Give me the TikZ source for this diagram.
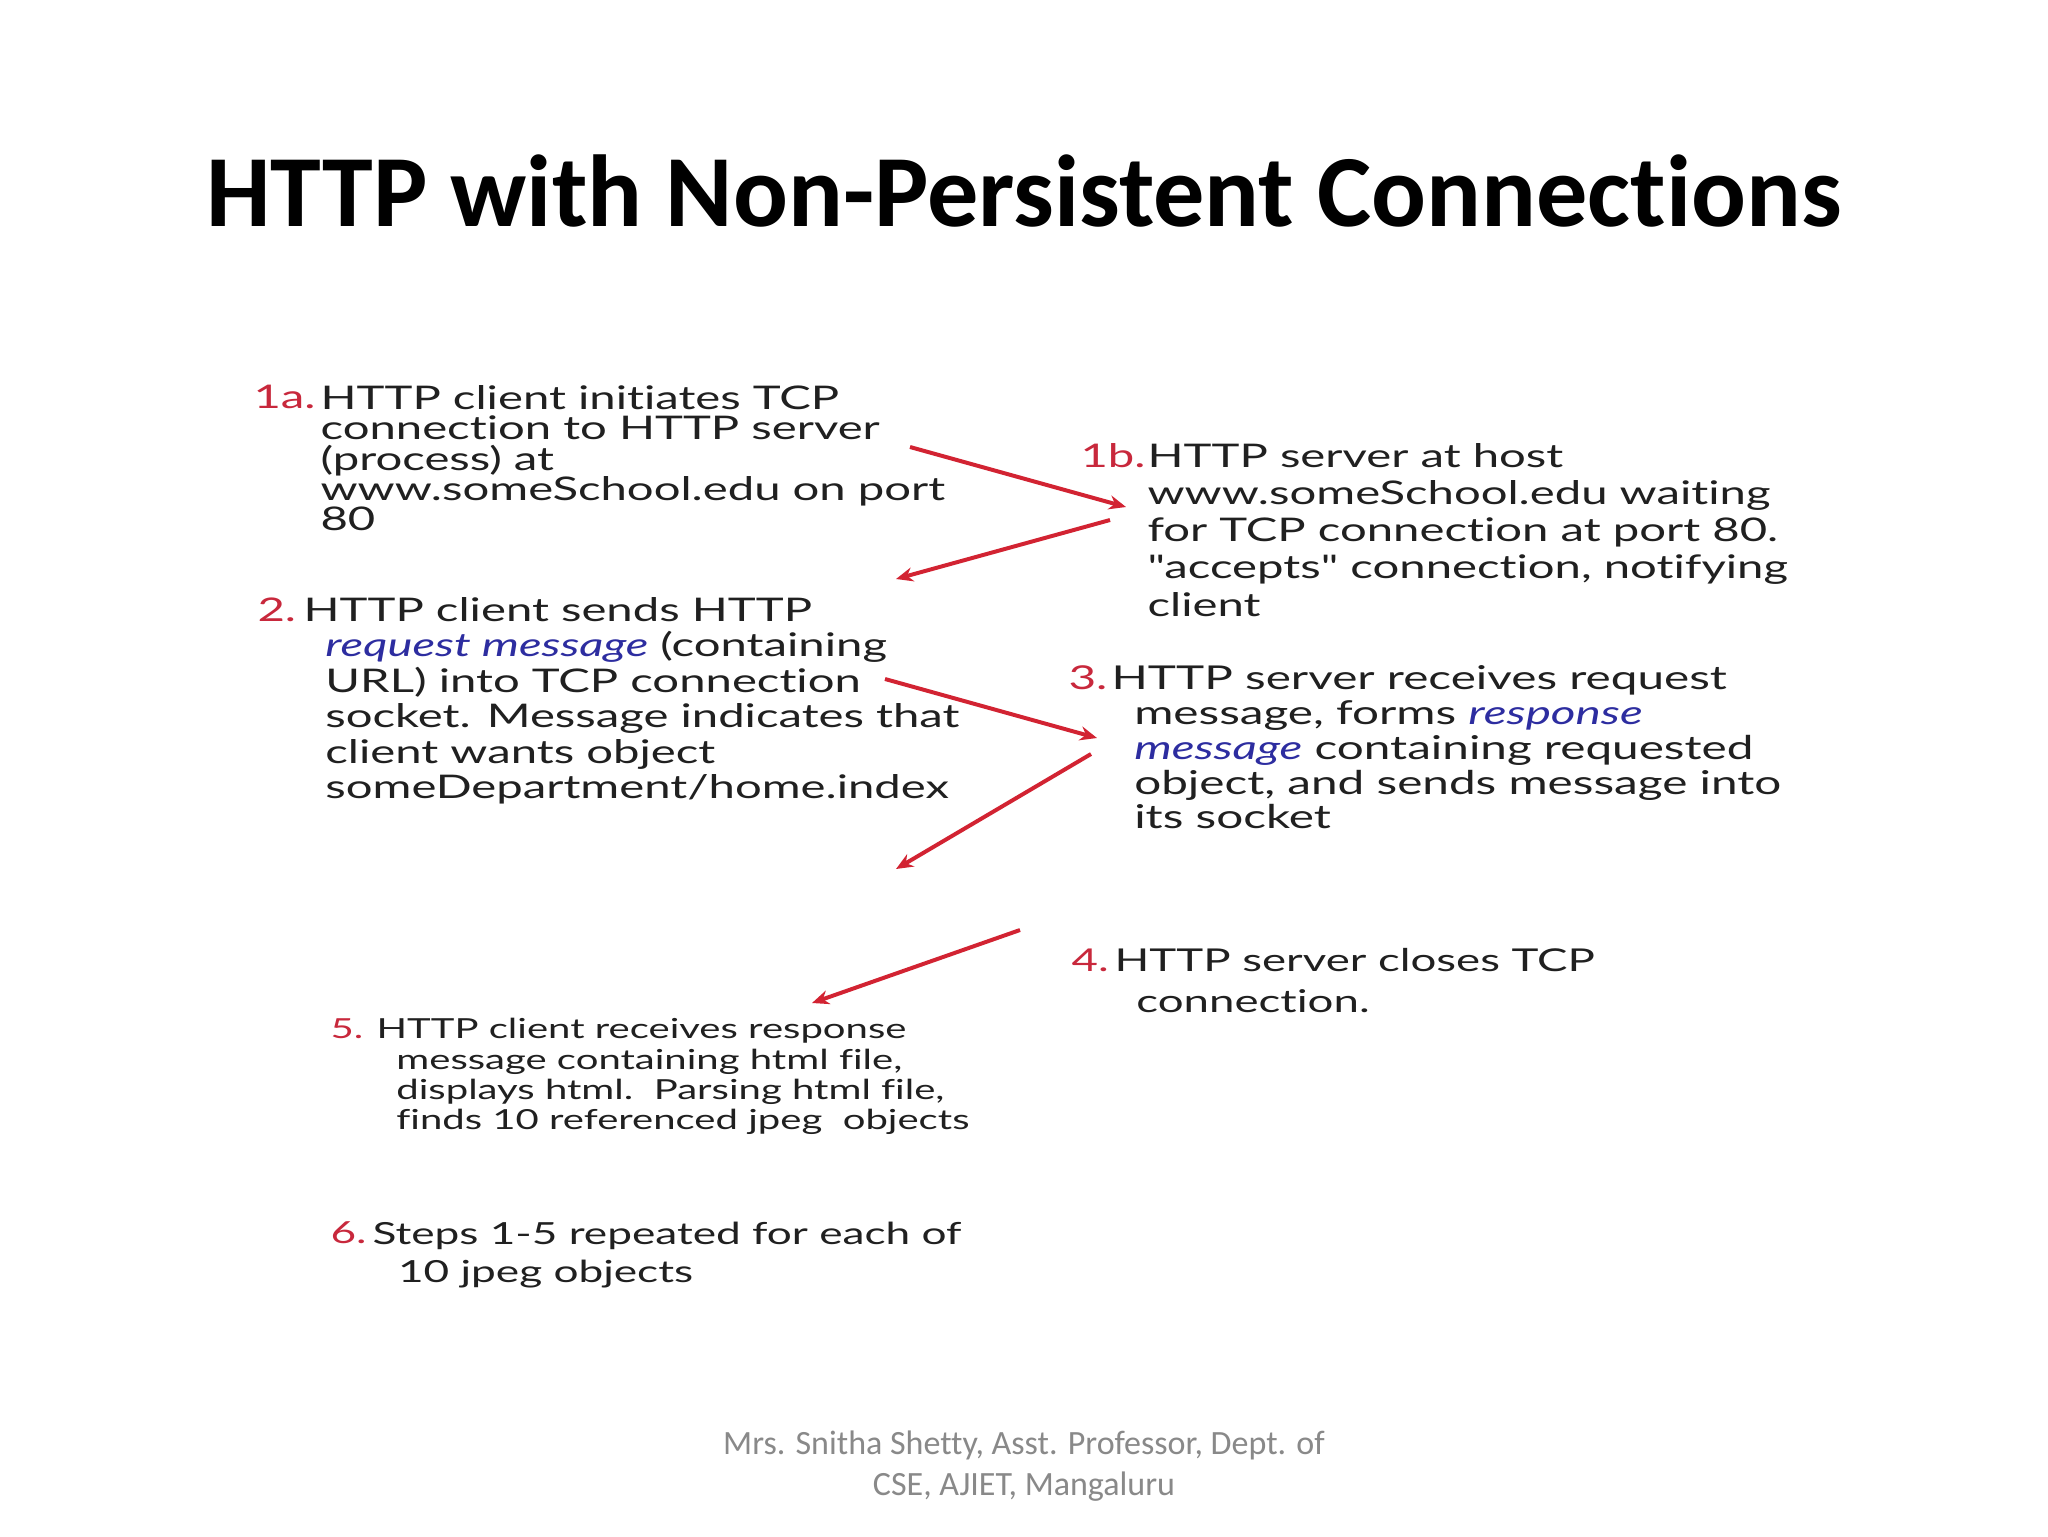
\documentclass[tikz,border=0pt]{standalone}
\usepackage{fontspec}
\setmainfont{Carlito}[Ligatures={NoCommon}]
\newfontfamily\bodyfont[FakeStretch=1.45,Ligatures={NoCommon}]{Lato}
\usetikzlibrary{arrows.meta}
\definecolor{txtcol}{RGB}{32,32,32}
\definecolor{numred}{RGB}{200,40,60}
\definecolor{navy}{RGB}{45,45,160}
\definecolor{arrowred}{RGB}{210,35,50}
\definecolor{footgray}{RGB}{137,137,137}
\newcommand{\bfnt}[2]{\bodyfont\fontsize{#1}{#2}\selectfont\lineskiplimit=-100pt\lineskip=0pt}
\newcommand{\ind}[1]{\hspace*{#1}}
\newcommand{\hl}[1]{\textcolor{navy}{\itshape #1}}
\tikzset{
  lbl/.style={anchor=north west, inner sep=0pt, text=numred},
  blk/.style={anchor=north west, inner sep=0pt, align=left, text=txtcol},
  arr/.style={draw=arrowred, line width=1.4pt, -{Stealth[length=6pt,width=5pt]}}
}
\begin{document}
\begin{tikzpicture}[x=0.01240234cm, y=-0.01240234cm]
\useasboundingbox[fill=white] (0,0) rectangle (2048,1536);
% title
\node[anchor=base, inner sep=0pt, font=\bfseries\fontsize{36.1}{40}\selectfont] (title) at (1024,226) {HTTP with Non-Persistent Connections};
% 1a
\node[lbl, font=\bfnt{11.5}{10.7}] (n1a) at (253,385) {1a.};
\node[blk, font=\bfnt{11.5}{10.7}] (t1a) at (320,385) {HTTP client initiates TCP\\connection to HTTP server\\(process) at\\www.someSchool.edu on port\\80};
% 1b
\node[lbl, font=\bfnt{11.5}{13.1}] (n1b) at (1080,443) {1b.};
\node[blk, font=\bfnt{11.5}{13.1}] (t1b) at (1147,443) {HTTP server at host\\www.someSchool.edu waiting\\for TCP connection at port 80.\\"accepts" connection, notifying\\client};
% 2
\node[lbl, font=\bfnt{11.5}{12.5}] (n2) at (257,597) {2.};
\node[blk, font=\bfnt{11.5}{12.5}] (t2) at (303,597) {HTTP client sends HTTP\\\ind{7.7pt}\hl{request message} (containing\\\ind{7.7pt}URL) into TCP connection\\\ind{7.7pt}socket. Message indicates that\\\ind{7.7pt}client wants object\\\ind{7.7pt}someDepartment/home.index};
% 3
\node[lbl, font=\bfnt{11.6}{12.3}] (n3) at (1068,665) {3.};
\node[blk, font=\bfnt{11.6}{12.3}] (t3) at (1111,665) {HTTP server receives request\\\ind{8pt}message, forms \hl{response}\\\ind{8pt}\hl{message} containing requested\\\ind{8pt}object, and sends message into\\\ind{8pt}its socket};
% 4
\node[lbl, font=\bfnt{11.1}{14.4}] (n4) at (1071,948) {4.};
\node[blk, font=\bfnt{11.1}{14.4}] (t4) at (1114,948) {HTTP server closes TCP\\\ind{7.7pt}connection.};
% 5
\node[lbl, font=\bfnt{9.75}{10.7}] (n5) at (330,1018) {5.};
\node[blk, font=\bfnt{9.75}{10.7}] (t5) at (376,1018) {HTTP client receives response\\\ind{7pt}message containing html file,\\\ind{7pt}displays html.\ \ Parsing html file,\\\ind{7pt}finds 10 referenced jpeg\ \ objects};
% 6
\node[lbl, font=\bfnt{10.75}{13.7}] (n6) at (330,1221) {6.};
\node[blk, font=\bfnt{10.75}{13.7}] (t6) at (372,1221) {Steps 1-5 repeated for each of\\\ind{9pt}10 jpeg objects};
% arrows
\coordinate (a1s) at (910,447);  \coordinate (a1e) at (1126,507);
\coordinate (a2s) at (1110,520); \coordinate (a2e) at (896,579);
\coordinate (a3s) at (885,679);  \coordinate (a3e) at (1097,738);
\coordinate (a4s) at (1091,754); \coordinate (a4e) at (896,869);
\coordinate (a5s) at (1020,930); \coordinate (a5e) at (812,1003);
\draw[arr] (a1s) -- (a1e);
\draw[arr] (a2s) -- (a2e);
\draw[arr] (a3s) -- (a3e);
\draw[arr] (a4s) -- (a4e);
\draw[arr] (a5s) -- (a5e);
% footer
\node[align=center, inner sep=0pt, text=footgray, font=\fontsize{12}{14.2}\selectfont] (foot) at (1024,1466) {Mrs. Snitha Shetty, Asst. Professor, Dept. of\\CSE, AJIET, Mangaluru};
\end{tikzpicture}
\end{document}
